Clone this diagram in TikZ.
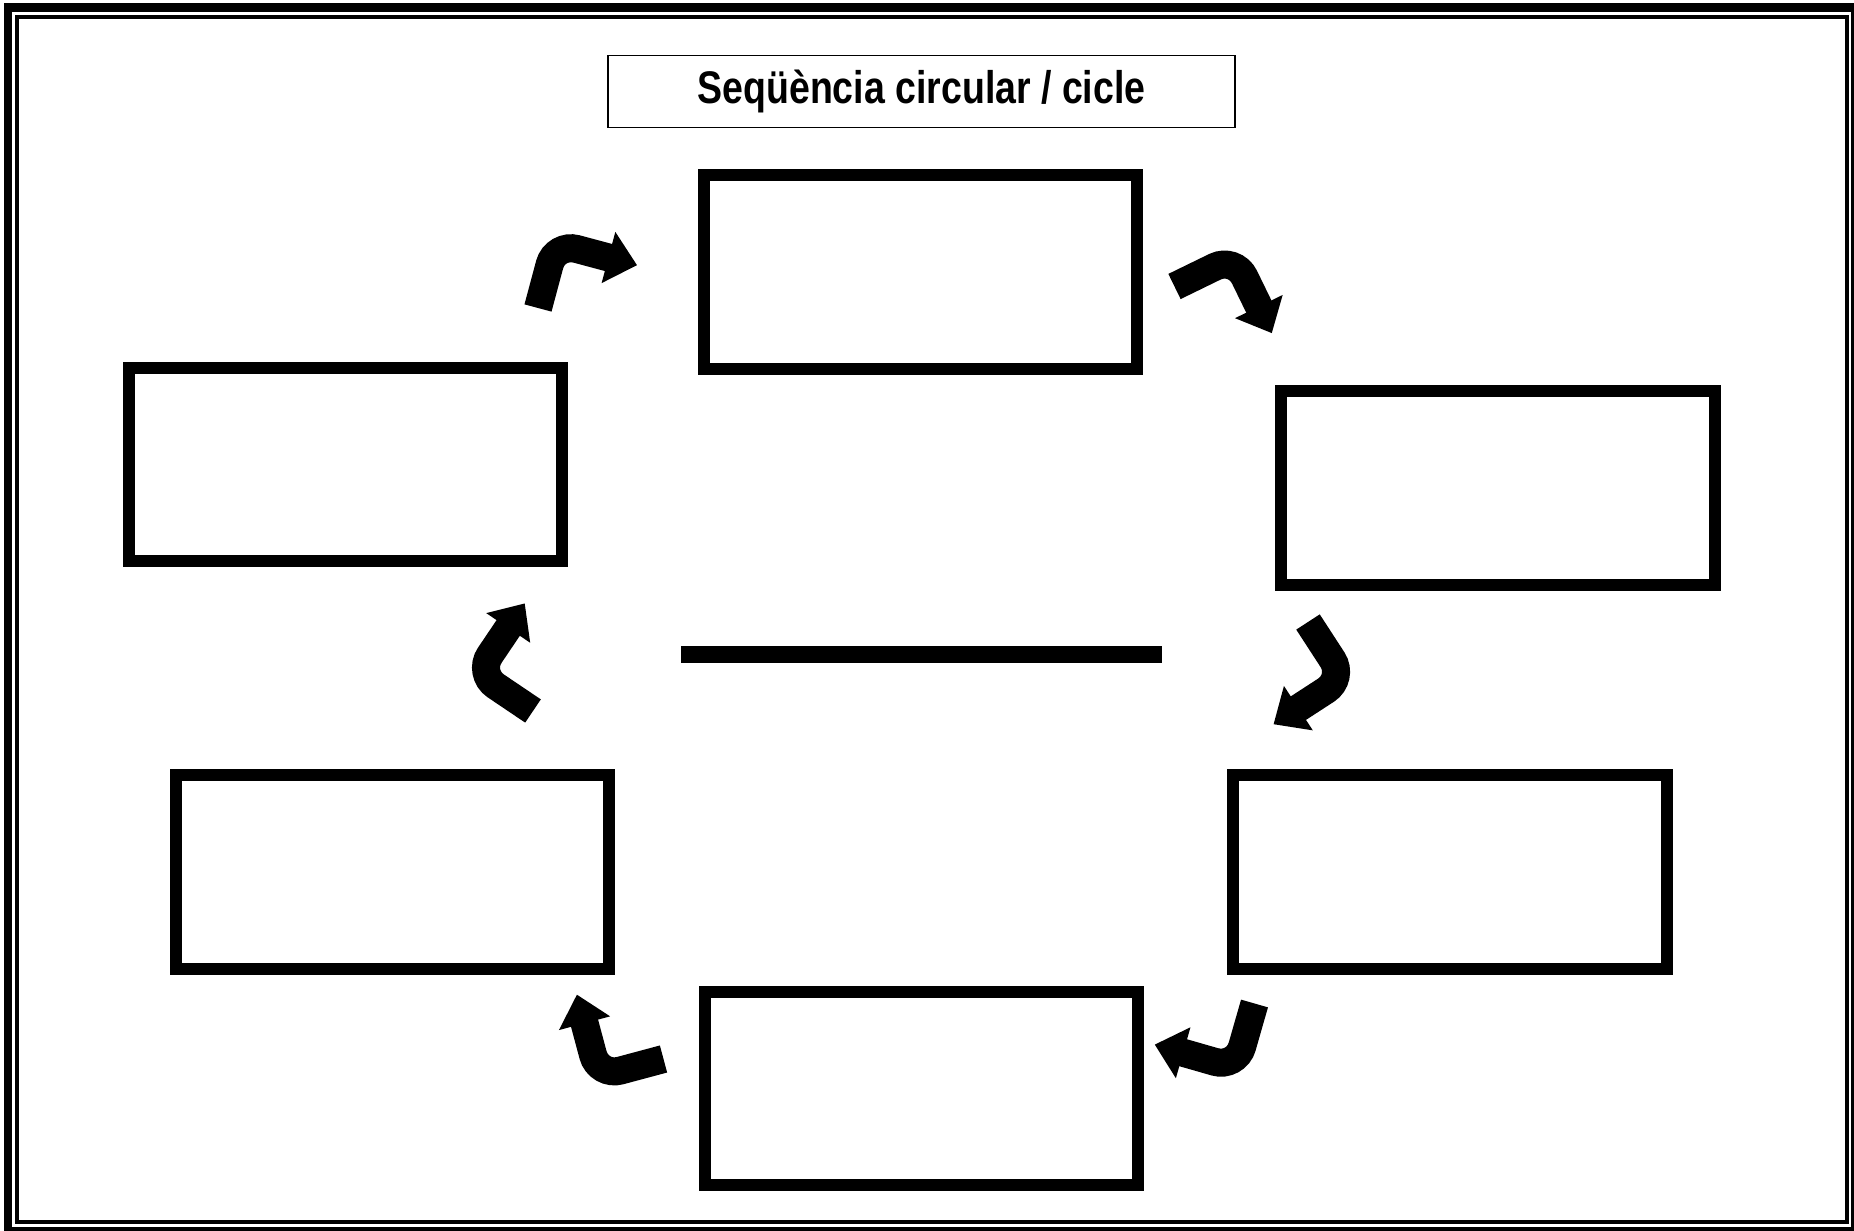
\documentclass[tikz,border=0pt]{standalone}
\usepackage{fontspec}
\newfontfamily\titlefont[FakeStretch=0.82]{Liberation Sans}
\tikzset{
  stagebox/.style={rectangle, draw, line width=0.12cm, minimum width=4.33cm, minimum height=1.93cm},
  pics/cyclearrow/.style={code={
    \draw [line width=0.28cm, rounded corners=0.22cm] (0,0) |- (56,-67);
    \fill (55,-40.5) -- (84.5,-67) -- (55,-93.5) -- cycle;
  }}
}
\begin{document}
\begin{tikzpicture}[x=0.01cm, y=-0.01cm]
  \useasboundingbox (0,0) rectangle (1854,1231);
  \draw [line width=0.085cm] (8,7.5) rectangle (1855,1231);
  \draw [line width=0.035cm] (17,17) rectangle (1847,1222);
  \node (title) [rectangle, draw, line width=0.015cm, minimum width=6.27cm, minimum height=0.72cm] at (921.5,91.5)
    {\titlefont\bfseries\fontsize{13}{15}\selectfont Seqüència circular / cicle};
  \node (top) [stagebox] at (920.75,272) {};
  \node (topright) [stagebox] at (1498,488) {};
  \node (botright) [stagebox] at (1450,872) {};
  \node (bottom) [stagebox] at (921.5,1088.5) {};
  \node (botleft) [stagebox] at (392.5,872) {};
  \node (topleft) [stagebox] at (345.25,464.5) {};
  \draw [line width=0.16cm] (681,654.5) -- (1162,654.5);
  \pic [rotate=-15] at (538,308) {cyclearrow};
  \pic [rotate=-64] at (1174.5,286.5) {cyclearrow};
  \pic [rotate=-147] at (1308,622) {cyclearrow};
  \pic [rotate=164] at (1254.5,1003.5) {cyclearrow};
  \pic [rotate=105] at (663.5,1059) {cyclearrow};
  \pic [rotate=56] at (533,711) {cyclearrow};
\end{tikzpicture}
\end{document}
